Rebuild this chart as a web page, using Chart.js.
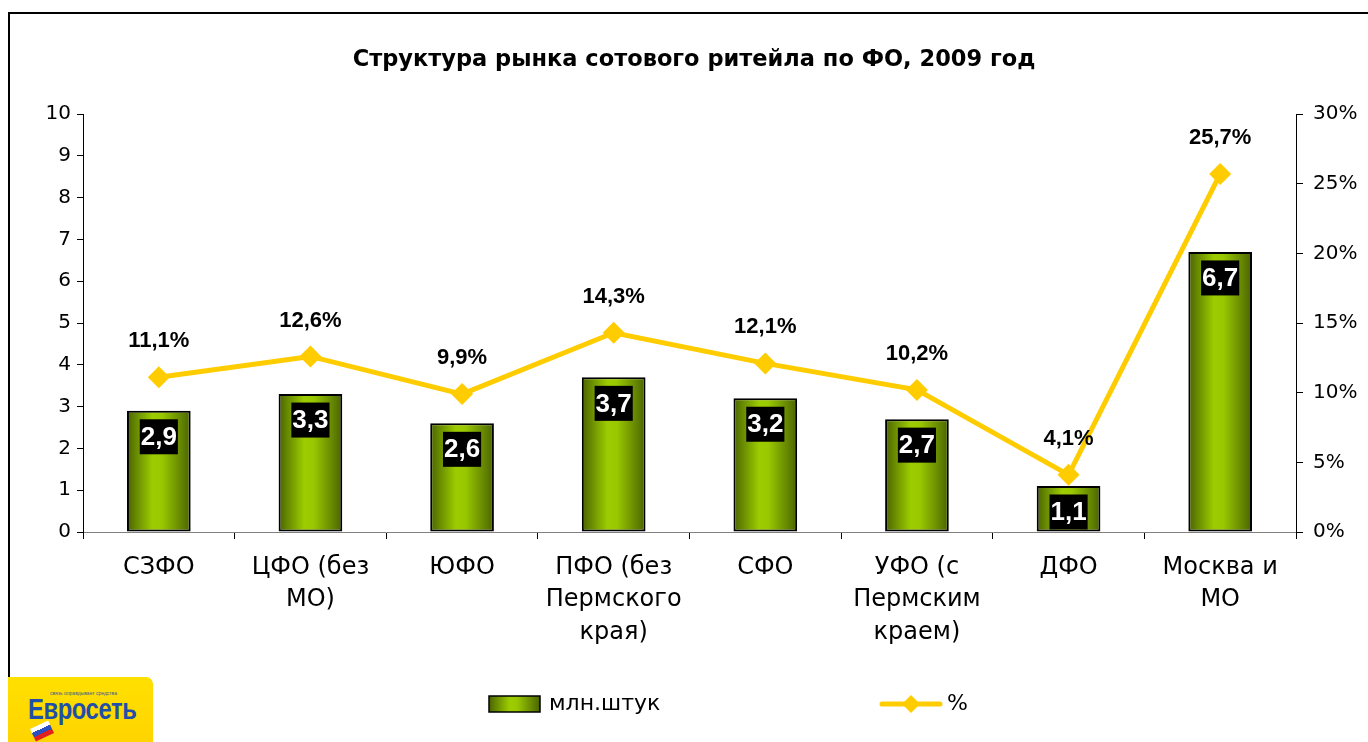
<!DOCTYPE html>
<html>
<head>
<meta charset="utf-8">
<script src="https://cdn.jsdelivr.net/npm/chart.js@4/dist/chart.umd.min.js"></script>
<style>
  html, body { margin: 0; padding: 0; background: #fff; }
  #wrap { position: relative; width: 1368px; height: 742px; overflow: hidden; }
  #frame { position: absolute; left: 8px; top: 12px; width: 1400px; height: 800px;
           border-left: 2px solid #000; border-top: 2px solid #000; }
  #box { position: absolute; left: 0; top: 0; width: 1368px; height: 742px; }
  #logo { position: absolute; left: 8px; top: 677px; width: 145px; height: 65px;
          background: linear-gradient(#ffe000, #ffd400); border-top-right-radius: 7px; }
  #logo .tag { position: absolute; left: 42px; top: 13px; font: 5px 'Liberation Sans', Arial, sans-serif; color: #3a5a9a; white-space: nowrap; }
  #logo .name { position: absolute; left: 20px; top: 16px; font: bold 29px 'Liberation Sans', Arial, sans-serif;
                color: #1f4fa8; letter-spacing: -0.5px; transform: scaleX(0.82); transform-origin: left; white-space: nowrap; }
  #logo .flag { position: absolute; left: 24px; top: 47px; width: 20px; height: 14px; transform: rotate(-25deg);
                background: linear-gradient(#fff 0 33%, #2a4fc0 33% 66%, #e02020 66%); }
</style>
</head>
<body>
<div id="wrap">
  <div id="frame"></div>
  <div id="box"><canvas id="chart"></canvas></div>
  <div id="logo">
    <span class="tag">связь оправдывает средства</span>
    <span class="name">Евросеть</span>
    <span class="flag"></span>
  </div>
</div>
<script>
const categories = [
  'СЗФО',
  ['ЦФО (без', 'МО)'],
  'ЮФО',
  ['ПФО (без', 'Пермского', 'края)'],
  'СФО',
  ['УФО (с', 'Пермским', 'краем)'],
  'ДФО',
  ['Москва и', 'МО']
];
const units = [2.9, 3.3, 2.6, 3.7, 3.2, 2.7, 1.1, 6.7];
const shares = [11.1, 12.6, 9.9, 14.3, 12.1, 10.2, 4.1, 25.7];
const leftTicks = [0, 1, 2, 3, 4, 5, 6, 7, 8, 9, 10];
const rightTicks = [0, 5, 10, 15, 20, 25, 30];

const FONT = "'DejaVu Sans', sans-serif";
const NARROW = "'Liberation Sans', Arial, sans-serif";
const CAT_PCT = 0.84;
const BAR_PCT = 0.5;

const fmt = (v) => v.toFixed(1).replace('.', ',');

function barGradient(ctx, x0, x1) {
  const g = ctx.createLinearGradient(x0, 0, x1, 0);
  g.addColorStop(0, '#4a6400');
  g.addColorStop(0.4, '#9ccc00');
  g.addColorStop(0.55, '#99c800');
  g.addColorStop(1, '#4a6400');
  return g;
}

const labelsPlugin = {
  id: 'labels',
  afterDatasetsDraw(chart) {
    const ctx = chart.ctx;
    const bars = chart.getDatasetMeta(0).data;
    const pts = chart.getDatasetMeta(1).data;
    ctx.save();
    // value boxes on the bars
    ctx.font = 'bold 26px ' + NARROW;
    ctx.textAlign = 'center';
    ctx.textBaseline = 'middle';
    bars.forEach((b, i) => {
      const txt = fmt(units[i]);
      const w = ctx.measureText(txt).width + 2;
      const h = 35;
      let cy = b.y + 26;
      if (cy + h / 2 > b.base - 2) cy = b.base - 2 - h / 2;
      ctx.fillStyle = '#000';
      ctx.fillRect(b.x - w / 2, cy - h / 2, w, h);
      ctx.fillStyle = '#fff';
      ctx.fillText(txt, b.x, cy + 1);
    });
    // percent labels
    ctx.font = 'bold 22px ' + NARROW;
    ctx.fillStyle = '#000';
    pts.forEach((p, i) => {
      ctx.fillText(fmt(shares[i]) + '%', p.x, p.y - 36);
    });
    ctx.restore();
  },
  afterDraw(chart) {
    const ctx = chart.ctx;
    ctx.save();
    ctx.font = 'bold 22.5px ' + FONT;
    ctx.fillStyle = '#000';
    ctx.textAlign = 'center';
    ctx.textBaseline = 'middle';
    ctx.fillText('Структура рынка сотового ритейла по ФО, 2009 год', 694, 60);

    // legend
    const ly = 704;
    ctx.fillStyle = barGradient(ctx, 489, 540);
    ctx.fillRect(489, 696, 51, 16);
    ctx.strokeStyle = '#000';
    ctx.lineWidth = 1.5;
    ctx.strokeRect(489, 696, 51, 16);
    ctx.fillStyle = '#000';
    ctx.font = '22px ' + FONT;
    ctx.textAlign = 'left';
    ctx.fillText('млн.штук', 549, ly);
    ctx.strokeStyle = '#ffcc00';
    ctx.lineWidth = 5;
    ctx.lineCap = 'round';
    ctx.beginPath();
    ctx.moveTo(882, ly);
    ctx.lineTo(940, ly);
    ctx.stroke();
    ctx.fillStyle = '#ffcc00';
    ctx.beginPath();
    ctx.moveTo(911, ly - 9);
    ctx.lineTo(920, ly);
    ctx.lineTo(911, ly + 9);
    ctx.lineTo(902, ly);
    ctx.closePath();
    ctx.fill();
    ctx.fillStyle = '#000';
    ctx.fillText('%', 947, ly);
    ctx.restore();
  }
};

new Chart(document.getElementById('chart').getContext('2d'), {
  data: {
    labels: categories,
    datasets: [
      {
        type: 'bar',
        label: 'млн.штук',
        data: units,
        yAxisID: 'y',
        order: 2,
        categoryPercentage: CAT_PCT,
        barPercentage: BAR_PCT,
        borderColor: '#000',
        borderWidth: 2,
        borderSkipped: false,
        backgroundColor: (c) => {
          const chart = c.chart;
          const xs = chart.scales.x;
          if (!xs || !chart.chartArea) return '#99cc00';
          const cx = xs.getPixelForValue(c.dataIndex);
          const half = (xs.width / categories.length) * CAT_PCT * BAR_PCT / 2;
          return barGradient(chart.ctx, cx - half, cx + half);
        }
      },
      {
        type: 'line',
        label: '%',
        data: shares,
        yAxisID: 'y1',
        order: 1,
        borderColor: '#ffcc00',
        borderWidth: 5,
        tension: 0,
        pointStyle: 'rectRot',
        pointRadius: 11,
        pointBackgroundColor: '#ffcc00',
        pointBorderColor: '#ffcc00',
        pointBorderWidth: 0
      }
    ]
  },
  options: {
    responsive: true,
    maintainAspectRatio: false,
    animation: false,
    layout: { padding: { left: 0, right: 0, top: 114, bottom: 0 } },
    plugins: {
      legend: { display: false },
      title: { display: false },
      tooltip: { enabled: false }
    },
    scales: {
      x: {
        offset: true,
        grid: { offset: true, drawOnChartArea: false, color: '#000', tickLength: 7, lineWidth: 1 },
        border: { color: '#808080', width: 1 },
        ticks: { color: '#000', font: { family: FONT, size: 24, lineHeight: 1.36 }, padding: 12, maxRotation: 0, autoSkip: false },
        afterFit: (s) => { s.height = 210; }
      },
      y: {
        position: 'left',
        min: 0,
        max: 10,
        afterBuildTicks: (s) => { s.ticks = leftTicks.map((v) => ({ value: v })); },
        grid: { drawOnChartArea: false, color: '#000', tickLength: 6 },
        border: { color: '#000', width: 1 },
        ticks: { color: '#000', font: { family: FONT, size: 20 }, padding: 6 },
        afterFit: (s) => { s.width = 83; }
      },
      y1: {
        position: 'right',
        min: 0,
        max: 30,
        afterBuildTicks: (s) => { s.ticks = rightTicks.map((v) => ({ value: v })); },
        grid: { drawOnChartArea: false, color: '#000', tickLength: 7 },
        border: { color: '#000', width: 1 },
        ticks: { color: '#000', font: { family: FONT, size: 20 }, padding: 10, callback: (v) => v + '%' },
        afterFit: (s) => { s.width = 72; }
      }
    }
  },
  plugins: [labelsPlugin]
});
</script>
</body>
</html>
